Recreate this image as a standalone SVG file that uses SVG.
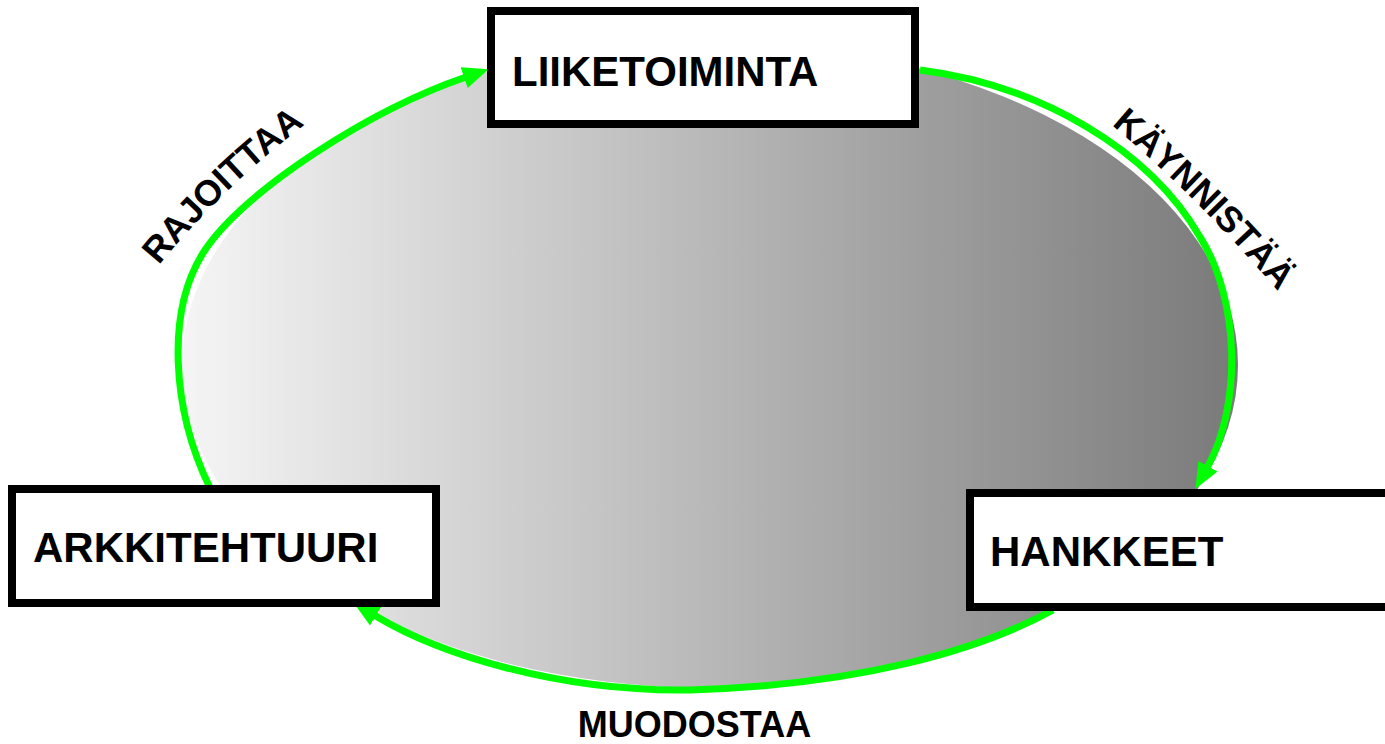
<svg xmlns="http://www.w3.org/2000/svg" width="1385" height="744" viewBox="0 0 1385 744">
  <defs>
    <linearGradient id="bg" x1="0" y1="0" x2="1" y2="0">
      <stop offset="0" stop-color="#f5f5f5"/>
      <stop offset="1" stop-color="#7a7a7a"/>
    </linearGradient>
    <marker id="arrow" markerUnits="userSpaceOnUse" viewBox="-2 -12 28 24" markerWidth="28" markerHeight="24" refX="0" refY="0" orient="auto">
      <path d="M-2,-11 L24,0 L-2,11 z" fill="#00ff00"/>
    </marker>
    <path id="p-raj" d="M152,274 Q222,186 314,118"/>
    <path id="p-kay" d="M1102,117 Q1202,200 1286,301"/>
  </defs>
  <style>
    .box { fill: #ffffff; stroke: #000000; stroke-width: 8; }
    .lbl { font-family: "Liberation Sans", Arial, sans-serif; font-weight: bold; font-size: 42px; fill: #000000; }
    .elbl { font-family: "Liberation Sans", Arial, sans-serif; font-weight: bold; font-size: 36px; fill: #000000; }
    .conn { fill: none; stroke: #00ff00; stroke-width: 7; marker-end: url(#arrow); }
  </style>

  <ellipse id="background" cx="710" cy="365" rx="528" ry="323" fill="url(#bg)"/>

  <g id="connectors">
    <path class="conn" d="M210,488 C172,410 165,310 205,250 C245,190 370,110 466,77"/>
    <path class="conn" d="M920,70 C1040,85 1150,150 1200,237 C1240,300 1242,405 1207,468"/>
    <path class="conn" d="M1053,610 C980,650 860,685 690,690 C560,692 440,655 374,615"/>
    <text class="elbl"><textPath href="#p-raj" startOffset="50%" text-anchor="middle">RAJOITTAA</textPath></text>
    <text class="elbl"><textPath href="#p-kay" startOffset="50%" text-anchor="middle">KÄYNNISTÄÄ</textPath></text>
    <text class="elbl" x="694.5" y="737" text-anchor="middle">MUODOSTAA</text>
  </g>

  <g id="liiketoiminta">
    <rect class="box" x="491" y="11" width="424" height="113"/>
    <text class="lbl" x="512" y="86">LIIKETOIMINTA</text>
  </g>

  <g id="arkkitehtuuri">
    <rect class="box" x="12" y="489" width="424" height="114"/>
    <text class="lbl" x="33" y="562">ARKKITEHTUURI</text>
  </g>

  <g id="hankkeet">
    <rect class="box" x="970" y="493" width="430" height="114"/>
    <text class="lbl" x="990" y="566">HANKKEET</text>
  </g>
</svg>
